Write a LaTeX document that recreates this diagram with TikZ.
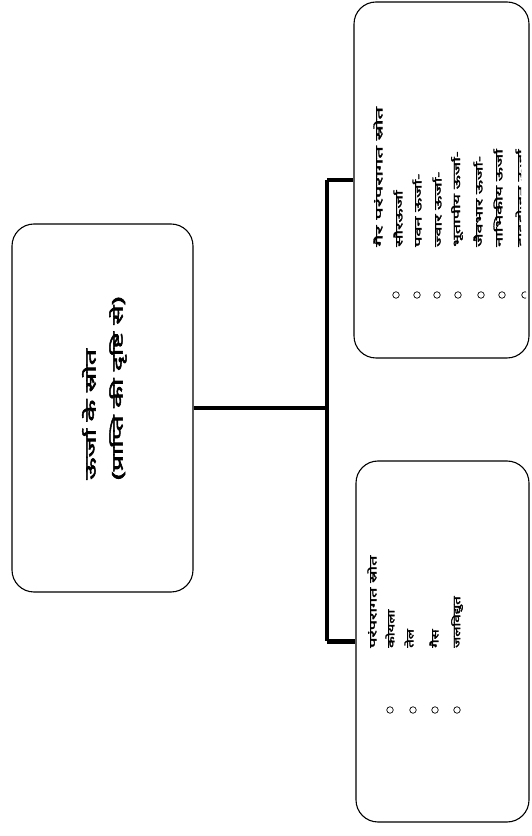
\documentclass[tikz,border=0pt]{standalone}
\usepackage{graphicx}
\usepackage{fontspec}
\newfontfamily\devmain[Script=Devanagari,FakeBold=3]{Noto Sans}
\newfontfamily\devbox[Script=Devanagari,FakeBold=2.5]{Noto Sans}
\newcommand{\mstr}[1]{\scalebox{1.9}[1]{#1}}
\newcommand{\tstr}[1]{\scalebox{2.2}[1]{#1}}
\newcommand{\hstr}[1]{\scalebox{1.8}[1]{#1}}
\newcommand{\istr}[1]{\scalebox{1.8}[1]{#1}}
\newcommand{\jstr}[1]{\scalebox{1.5}[1]{#1}}
\begin{document}
\begin{tikzpicture}[x=1pt,y=1pt,
  box/.style={draw,line width=1.1pt,rounded corners=22pt},
  conn/.style={line width=4.5pt},
  mtxt/.style={rotate=90,anchor=west,inner sep=0pt,font=\devmain\fontsize{15}{17}\selectfont},
  txt/.style={rotate=90,anchor=west,inner sep=0pt,font=\devbox\fontsize{10}{12}\selectfont},
  bul/.style={draw,circle,line width=0.7pt,minimum size=6.5pt,inner sep=0pt}]
\useasboundingbox (0,0) rectangle (532,836);
\node[box,minimum width=181pt,minimum height=368pt] (main) at (102.5,428) {};
\node[box,minimum width=175pt,minimum height=356pt] (top) at (441.5,656) {};
\node[box,minimum width=173pt,minimum height=361pt] (bot) at (442.5,194.5) {};
\coordinate (jm) at (327,428);
\coordinate (jt) at (327,656);
\coordinate (jb) at (327,194.5);
\draw[conn] (main.east) -- (jm);
\draw[conn] (jt) -- (jb);
\draw[conn] (jt) -- (top.west);
\draw[conn] (jb) -- (bot.west);
% main text
\node[mtxt] (m1) at (89,356) {\mstr{ऊर्जा के स्रोत}};
\node[mtxt] (m2) at (118,356) {\mstr{(प्राप्ति की दृष्टि से)}};
% top box
\node[txt] (t0) at (378,589) {\tstr{गैर परंपरागत स्रोत}};
\node[txt] (t1) at (398,589) {\istr{सौरऊर्जा}};
\node[txt] (t2) at (417,589) {\istr{पवन ऊर्जा-}};
\node[txt] (t3) at (437,589) {\istr{ज्वार ऊर्जा-}};
\node[txt] (t4) at (457,589) {\istr{भूतापीय ऊर्जा-}};
\node[txt] (t5) at (478,589) {\istr{जैवभार ऊर्जा-}};
\node[txt] (t6) at (498,589) {\istr{नाभिकीय ऊर्जा}};
\foreach \i/\x in {1/396,2/417,3/437,4/458,5/481,6/502}
  \node[bul] (tb\i) at (\x,541) {};
\begin{scope}
  \clip (509,560) rectangle (521,720);
  \node[txt] (t7) at (521,589) {\istr{हाइड्रोजन ऊर्जा}};
\end{scope}
\begin{scope}
  \clip (521,535) rectangle (526,547);
  \node[bul] (tb7) at (525,541) {};
\end{scope}
% bottom box
\node[txt] (b0) at (372,188) {\hstr{परंपरागत स्रोत}};
\node[txt] (b1) at (390,188) {\jstr{कोयला}};
\node[txt] (b2) at (409,188) {\jstr{तेल}};
\node[txt] (b3) at (434,188) {\jstr{गैस}};
\node[txt] (b4) at (457,188) {\jstr{जलविद्युत}};
\foreach \i/\x in {1/390,2/413,3/435,4/457}
  \node[bul] (bb\i) at (\x,126) {};
\end{tikzpicture}
\end{document}
